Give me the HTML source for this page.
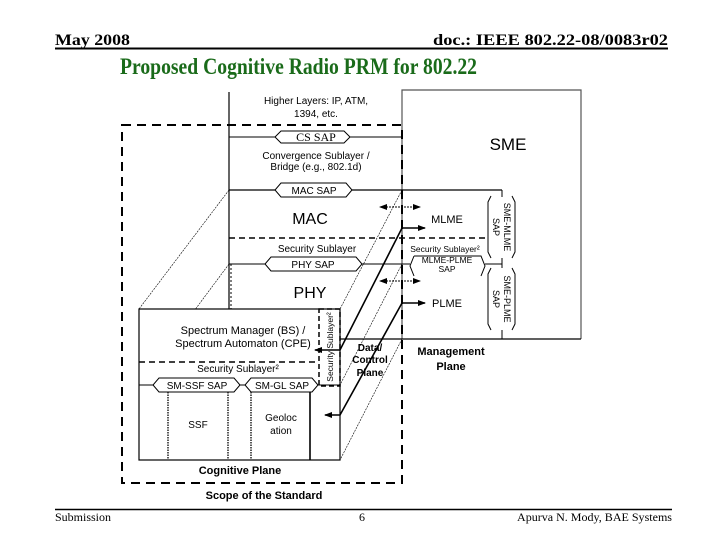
<!DOCTYPE html>
<html><head><meta charset="utf-8"><style>
html,body{margin:0;padding:0;background:#fff;}
svg{display:block;}
text{font-family:"Liberation Sans",sans-serif;}
.s{font-family:"Liberation Serif",serif;}
</style></head><body>
<svg width="720" height="540" viewBox="0 0 720 540" xmlns="http://www.w3.org/2000/svg">
<defs>
<marker id="ar" markerWidth="8" markerHeight="6" refX="7" refY="3" orient="auto" markerUnits="userSpaceOnUse"><path d="M0,0 L8,3 L0,6 z" fill="#000"/></marker>
<marker id="al" markerWidth="8" markerHeight="6" refX="1" refY="3" orient="auto" markerUnits="userSpaceOnUse"><path d="M8,0 L0,3 L8,6 z" fill="#000"/></marker>
</defs>
<!-- header -->
<text class="s" x="55" y="45" font-size="16" font-weight="bold" textLength="75" lengthAdjust="spacingAndGlyphs">May 2008</text>
<text class="s" x="668" y="45" font-size="16" font-weight="bold" text-anchor="end" textLength="235" lengthAdjust="spacingAndGlyphs">doc.: IEEE 802.22-08/0083r02</text>
<line x1="55" y1="48.5" x2="668" y2="48.5" stroke="#000" stroke-width="2"/>
<text class="s" x="120" y="74" font-size="23" font-weight="bold" fill="#1a6b1a" textLength="357" lengthAdjust="spacingAndGlyphs">Proposed Cognitive Radio PRM for 802.22</text>
<!-- footer -->
<line x1="55" y1="509.5" x2="672" y2="509.5" stroke="#000" stroke-width="1.5"/>
<text class="s" x="55" y="521" font-size="12" textLength="56" lengthAdjust="spacingAndGlyphs">Submission</text>
<text class="s" x="362" y="521" font-size="12" text-anchor="middle">6</text>
<text class="s" x="672" y="521" font-size="12" text-anchor="end" textLength="155" lengthAdjust="spacingAndGlyphs">Apurva N. Mody, BAE Systems</text>

<g stroke="#000" fill="none">
<!-- SME box -->
<path d="M402,339 V90 H581 V339" stroke-width="1.2" stroke="#555"/>
<line x1="340" y1="339" x2="581" y2="339" stroke-width="1.2"/>
<!-- back stack left line -->
<line x1="229" y1="92" x2="229" y2="309" stroke-width="1.2"/>
<line x1="231" y1="264" x2="231" y2="309" stroke-width="1" stroke-dasharray="2,2"/>
<!-- scope dashed box -->
<rect x="122" y="125" width="280" height="358" stroke-width="2" stroke-dasharray="9,6"/>
<!-- CS SAP line -->
<line x1="229" y1="137" x2="402" y2="137"/>
<!-- MAC SAP line -->
<line x1="229" y1="190" x2="502" y2="190" stroke-width="1.2"/>
<line x1="502" y1="190" x2="502" y2="197"/>
<!-- security dashed -->
<line x1="229" y1="238" x2="485" y2="238" stroke-width="1.5" stroke-dasharray="6,4"/>
<!-- PHY SAP line -->
<line x1="229" y1="264" x2="410" y2="264"/>
<line x1="502" y1="258" x2="502" y2="268"/>
<line x1="485" y1="264" x2="502" y2="264"/>
<line x1="502" y1="330" x2="502" y2="339"/>
<!-- perspective lines -->
<line x1="229" y1="190" x2="139" y2="309" stroke-width="0.6" stroke-dasharray="2,1"/>
<line x1="402" y1="190" x2="340" y2="309" stroke-width="0.6" stroke-dasharray="2,1"/>
<line x1="229" y1="264" x2="139" y2="385" stroke-width="0.6" stroke-dasharray="2,1"/>
<line x1="402" y1="264" x2="340" y2="385" stroke-width="0.6" stroke-dasharray="2,1"/>
<line x1="402" y1="339" x2="340" y2="460" stroke-width="0.6" stroke-dasharray="2,1"/>
<!-- front cognitive box -->
<rect x="139" y="309" width="201" height="151" fill="#fff" stroke-width="1.2"/>
<line x1="139" y1="362" x2="319" y2="362" stroke-width="1.5" stroke-dasharray="6,4"/>
<line x1="139" y1="385" x2="340" y2="385"/>
<rect x="319" y="309" width="21" height="77" stroke-width="1.5" stroke-dasharray="5,3"/>
<!-- SSF / Geoloc columns -->
<path d="M168,392 V460 M228,392 V460 M251,392 V460" stroke-width="1.3" stroke-dasharray="1.5,1"/>
<line x1="310" y1="392" x2="310" y2="460" stroke-width="1.6"/>
<!-- hexagons -->
<path d="M281,131 H344 L350,137 L344,143 H281 L275,137 Z" fill="#fff"/>
<path d="M281,183 H346 L352,190 L346,197 H281 L275,190 Z" fill="#fff"/>
<path d="M271,257 H356 L362,264 L356,271 H271 L265,264 Z" fill="#fff"/>
<path d="M414,256 H481 L485,266 L481,276 M414,276 L410,266 L414,256" />
<path d="M159,378 H234 L240,385 L234,392 H159 L153,385 Z" fill="#fff"/>
<path d="M251,378 H312 L318,385 L312,392 H251 L245,385 Z" fill="#fff"/>
<path d="M491,196 L488,202 V252 L491,258 M512,196 L515,202 V252 L512,258"/>
<path d="M491,268 L488,274 V324 L491,330 M512,268 L515,274 V324 L512,330"/>
<!-- arrows -->
<line x1="380" y1="207" x2="420" y2="207" stroke-dasharray="2,1" marker-start="url(#al)" marker-end="url(#ar)"/>
<line x1="380" y1="281" x2="420" y2="281" stroke-dasharray="2,1" marker-start="url(#al)" marker-end="url(#ar)"/>
<path d="M315,350 H340 L402,228 H425" stroke-width="1.6" marker-start="url(#al)" marker-end="url(#ar)"/>
<path d="M325,415 H340 L402,303 H425" stroke-width="1.6" marker-start="url(#al)" marker-end="url(#ar)"/>
</g>

<g font-size="10" fill="#000" text-anchor="middle">
<text x="316" y="104">Higher Layers: IP, ATM,</text>
<text x="316" y="117">1394, etc.</text>
<text x="316" y="141" class="s" font-size="12">CS SAP</text>
<text x="316" y="159">Convergence Sublayer /</text>
<text x="316" y="170">Bridge (e.g., 802.1d)</text>
<text x="314" y="194">MAC SAP</text>
<text x="310" y="224" font-size="16">MAC</text>
<text x="447" y="223" font-size="11">MLME</text>
<text x="317" y="252">Security Sublayer</text>
<text x="445" y="252" font-size="8.5">Security Sublayer²</text>
<text x="447" y="263" font-size="8.5">MLME-PLME</text>
<text x="447" y="272" font-size="8.5">SAP</text>
<text x="313" y="268">PHY SAP</text>
<text x="310" y="298" font-size="16">PHY</text>
<text x="447" y="307" font-size="11">PLME</text>
<text x="508" y="150" font-size="17">SME</text>
<text transform="translate(504,227) rotate(90)" font-size="9">SME-MLME</text>
<text transform="translate(493,227) rotate(90)" font-size="9">SAP</text>
<text transform="translate(504,299) rotate(90)" font-size="9">SME-PLME</text>
<text transform="translate(493,299) rotate(90)" font-size="9">SAP</text>
<text x="243" y="334" font-size="11">Spectrum Manager (BS) /</text>
<text x="243" y="347" font-size="11">Spectrum Automaton (CPE)</text>
<text x="238" y="372">Security Sublayer²</text>
<text transform="translate(333,347) rotate(-90)" font-size="8.5">Security Sublayer²</text>
<text x="197" y="389">SM-SSF SAP</text>
<text x="282" y="389">SM-GL SAP</text>
<text x="198" y="428">SSF</text>
<text x="281" y="421">Geoloc</text>
<text x="281" y="434">ation</text>
<text x="240" y="474" font-size="11" font-weight="bold">Cognitive Plane</text>
<text x="264" y="499" font-size="11" font-weight="bold">Scope of the Standard</text>
<text x="370" y="351" font-weight="bold">Data/</text>
<text x="370" y="363" font-weight="bold">Control</text>
<text x="370" y="376" font-weight="bold">Plane</text>
<text x="451" y="355" font-size="11" font-weight="bold">Management</text>
<text x="451" y="370" font-size="11" font-weight="bold">Plane</text>
</g>
</svg>
</body></html>
